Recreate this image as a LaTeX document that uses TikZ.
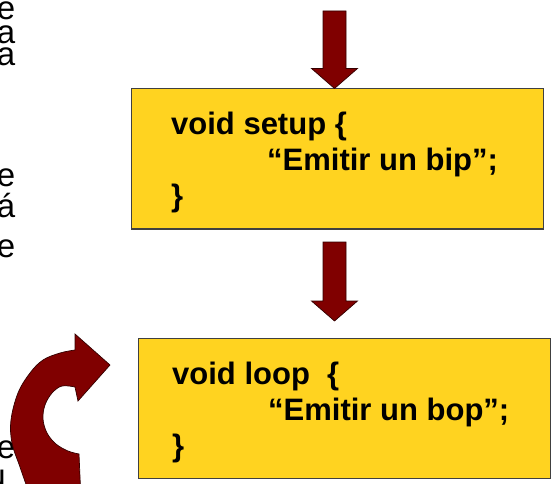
\documentclass[tikz,border=0pt]{standalone}
\usepackage{fontspec}
\setmainfont{Liberation Sans}
\usetikzlibrary{calc}
\definecolor{boxyellow}{HTML}{FFD320}
\definecolor{arrowred}{HTML}{800000}
\tikzset{
  codebox/.style={draw=black!75, line width=1pt, fill=boxyellow, minimum width=412pt, minimum height=140pt, inner sep=0pt},
  codetext/.style={font=\bfseries\fontsize{31}{36}\selectfont, anchor=base west, inner sep=0pt},
  sidetext/.style={font=\fontsize{33}{33}\selectfont, anchor=base east, inner sep=0pt, text height=17pt, text depth=0pt},
  blockarrow/.style={fill=arrowred, draw=black!60!arrowred, line width=0.7pt, line join=miter},
}
\newcommand\blkarr[2]{%
  \draw[blockarrow] ($(#1)+(-11.5,0)$) -- ($(#1)+(11.5,0)$) -- ($(#2)+(11.5,20)$) -- ($(#2)+(23,20)$) -- (#2) -- ($(#2)+(-23,20)$) -- ($(#2)+(-11.5,20)$) -- cycle;}
\begin{document}
\begin{tikzpicture}[x=1pt,y=1pt]
\useasboundingbox (0,0) rectangle (552,-484);
\clip (0,0) rectangle (552,-484);
\fill[white] (0,0) rectangle (552,-484);

% cut-off side text
\node[sidetext] (s1) at (15.5,-20) {e};
\node[sidetext] (s2) at (15.5,-44) {a};
\node[sidetext] (s3) at (15.5,-66) {a};
\node[sidetext] (s4) at (15.5,-186) {e};
\node[sidetext, text height=23pt] (s5) at (15.5,-218) {á};
\node[sidetext] (s6) at (15.5,-257) {e};
\node[sidetext] (s7) at (15.5,-458) {e};
\node[sidetext] (s8) at (6,-487) {u};

% boxes
\node[codebox] (b1) at (337,-159) {};
\node[codebox] (b2) at (344,-408) {};

\node[codetext] (t11) at (171,-135) {void setup \{};
\node[codetext] (t12) at (267,-171) {“Emitir un bip”;};
\node[codetext] (t13) at (171,-207) {\}};

\node[codetext] (t21) at (172,-384) {void loop\ \ \{};
\node[codetext] (t22) at (268,-420) {“Emitir un bop”;};
\node[codetext] (t23) at (172,-456) {\}};

% straight block arrows
\coordinate (a1s) at (334.5,-11);
\coordinate (a1t) at ($(b1.north)+(-2.5,0)$);
\blkarr{a1s}{a1t}
\coordinate (a2s) at (334.5,-242);
\coordinate (a2t) at (334.5,-321);
\blkarr{a2s}{a2t}

% curved loop arrow
\draw[blockarrow] (75,-334) -- (110,-365) -- (78,-401) -- (75,-387)
  -- plot[smooth, tension=0.6] coordinates {(75,-387) (62,-386) (52,-393) (45,-405) (43,-419) (47,-433) (56,-444) (68,-451) (79,-454)}
  -- (81,-500) -- (29,-500)
  -- plot[smooth, tension=0.6] coordinates {(28,-490) (20,-467) (12,-443) (11,-420) (18,-393) (30,-373) (43,-360) (60,-353) (75,-350)}
  -- cycle;
\end{tikzpicture}
\end{document}
